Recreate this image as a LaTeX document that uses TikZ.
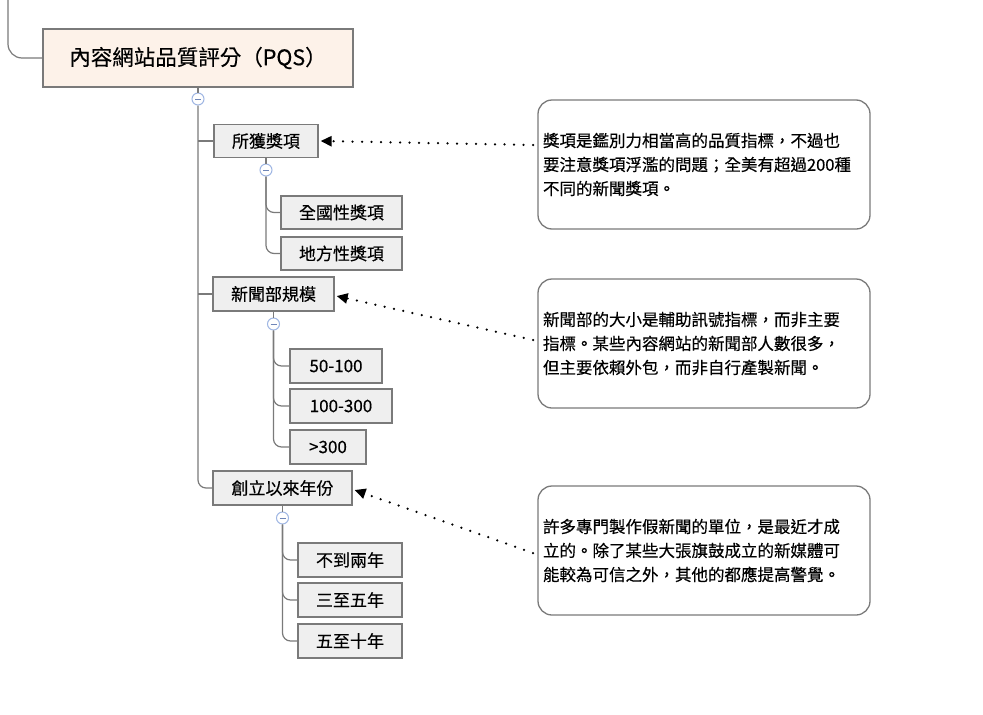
\documentclass[tikz,border=0pt]{standalone}
\usepackage{fontspec}
\setmainfont{Noto Sans CJK TC}[FakeBold=0.35]
\usetikzlibrary{arrows.meta,calc}
\definecolor{rootfill}{HTML}{FDF2E9}
\definecolor{boxfill}{HTML}{EFEFEF}
\definecolor{edge}{HTML}{7A7A7A}
\definecolor{collapse}{HTML}{9FB6E3}
\definecolor{minuscol}{HTML}{6F86B8}
\begin{document}
\begin{tikzpicture}[x=1pt,y=-1pt,
  rootbox/.style={draw=edge, fill=rootfill, line width=1.2pt, minimum width=310pt, minimum height=58pt, inner sep=0pt, font=\fontsize{21.5}{26}\selectfont},
  topic/.style={draw=edge, fill=boxfill, line width=1.2pt, minimum height=33pt, inner sep=0pt, font=\fontsize{17}{20}\selectfont},
  callout/.style={draw=edge, rounded corners=14pt, line width=1.3pt, minimum height=129pt, text width=322pt, inner xsep=5pt, align=left, font=\fontsize{16.5}{24}\selectfont},
  link/.style={draw=edge, line width=1.2pt, rounded corners=8pt},
  straightlink/.style={draw=edge, line width=1.2pt},
  toggle/.style={circle, draw=collapse, fill=white, line width=1pt, minimum size=12pt, inner sep=0pt,
    path picture={\draw[minuscol, line width=1pt] ([xshift=-3pt]path picture bounding box.center) -- ([xshift=3pt]path picture bounding box.center);}},
  dotarrow/.style={line width=2.5pt, line cap=round, dash pattern=on 0pt off 9.5pt, -{Triangle[length=11pt,width=10pt]}}
]
\useasboundingbox (0,0) rectangle (983,715);

% nodes
\node[rootbox] (root) at (198,58) {內容網站品質評分（PQS）};
\node[topic, minimum width=104pt] (award) at (266,141) {所獲獎項};
\node[topic, minimum width=121pt] (award1) at (341.5,212.5) {全國性獎項};
\node[topic, minimum width=121pt] (award2) at (341.5,253.5) {地方性獎項};
\node[topic, minimum width=121pt, minimum height=34pt] (size) at (273.5,294) {新聞部規模};
\node[topic, minimum width=92pt, minimum height=34pt] (size1) at (336,366) {50-100};
\node[topic, minimum width=102pt, minimum height=34pt] (size2) at (341,406) {100-300};
\node[topic, minimum width=76pt, minimum height=34pt] (size3) at (328,447) {>300};
\node[topic, minimum width=139pt, minimum height=34pt] (age) at (282.5,488) {創立以來年份};
\node[topic, minimum width=104pt, minimum height=34pt] (age1) at (350,560) {不到兩年};
\node[topic, minimum width=104pt, minimum height=34pt] (age2) at (350,600) {三至五年};
\node[topic, minimum width=104pt, minimum height=34pt] (age3) at (350,641) {五至十年};

\node[toggle] (t0) at (198,99) {};
\node[toggle] (t1) at (266,170) {};
\node[toggle] (t2) at (273.5,324) {};
\node[toggle] (t3) at (282.5,518) {};

% connectors
\coordinate (in) at (8,0);
\draw[link, rounded corners=14pt] (in) |- (root.west);
\draw[straightlink] (root.south) -- (t0.north);
\draw[link] (t0.south) |- (age.west);
\draw[straightlink] (t0.south |- award.west) -- (award.west);
\draw[straightlink] (t0.south |- size.west) -- (size.west);

\draw[straightlink] (award.south) -- (t1.north);
\draw[link] (t1.south) |- (award1.west);
\draw[link] (t1.south) |- (award2.west);

\draw[straightlink] (size.south) -- (t2.north);
\draw[link] (t2.south) |- (size1.west);
\draw[link] (t2.south) |- (size2.west);
\draw[link] (t2.south) |- (size3.west);

\draw[straightlink] (age.south) -- (t3.north);
\draw[link] (t3.south) |- (age1.west);
\draw[link] (t3.south) |- (age2.west);
\draw[link] (t3.south) |- (age3.west);

% callouts
\node[callout] (n1) at (704,164.5) {獎項是鑑別力相當高的品質指標，不過也\\要注意獎項浮濫的問題；全美有超過200種\\不同的新聞獎項。};
\node[callout] (n2) at (704,343.5) {新聞部的大小是輔助訊號指標，而非主要\\指標。某些內容網站的新聞部人數很多，\\但主要依賴外包，而非自行產製新聞。};
\node[callout] (n3) at (704,550.5) {許多專門製作假新聞的單位，是最近才成\\立的。除了某些大張旗鼓成立的新媒體可\\能較為可信之外，其他的都應提高警覺。};

\coordinate (s1) at (533,145);
\coordinate (s2) at (533,340);
\coordinate (s3) at (533,553);
\draw[dotarrow] (s1) -- ([xshift=2pt]award.east);
\draw[dotarrow] (s2) -- ([xshift=2pt,yshift=-2pt]size.east);
\draw[dotarrow] (s3) -- ([xshift=2pt,yshift=-2pt]age.east);
\end{tikzpicture}
\end{document}
